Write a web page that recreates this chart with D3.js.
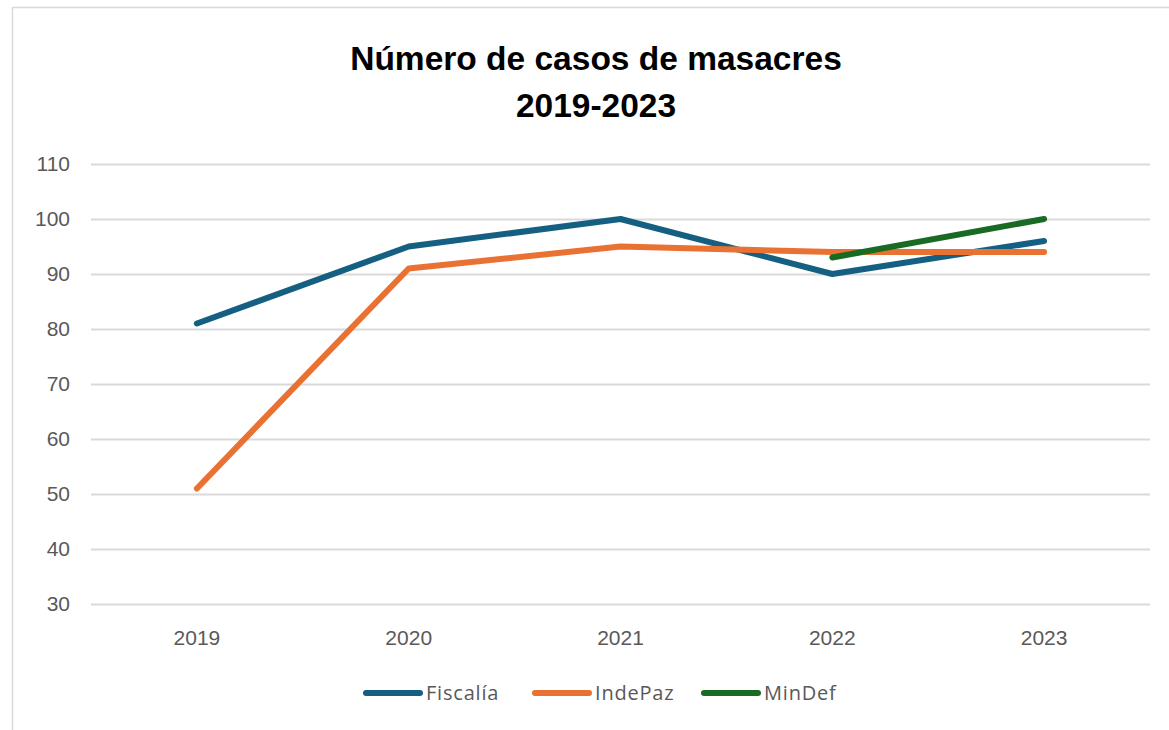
<!DOCTYPE html>
<html><head><meta charset="utf-8">
<script src="https://cdn.jsdelivr.net/npm/d3@7"></script>
<style>
body{margin:0;background:#fff;}
svg{display:block;}
</style></head>
<body>
<svg id="c" width="1169" height="730"></svg>
<script>
const years = ["2019","2020","2021","2022","2023"];
const fiscalia = [81, 95, 100, 90, 96];
const indepaz = [51, 91, 95, 94, 94];
const mindef = [null, null, null, 93, 100];
const yTicks = [30,40,50,60,70,80,90,100,110];
const seriesNames = ["Fiscalía","IndePaz","MinDef"];
const seriesColors = ["#156082","#E97132","#196B24"];
const titleLines = ["Número de casos de masacres","2019-2023"];

const svg = d3.select("#c");
// outer border
svg.append("rect").attr("x",12.5).attr("y",7.5).attr("width",1170).attr("height",730)
  .attr("fill","#fff").attr("stroke","#d9d9d9").attr("stroke-width",1.5);

const x = d3.scaleBand().domain(years).range([91,1150]);
const y = d3.scaleLinear().domain([30,110]).range([604,164]);

// gridlines
const gy = svg.append("g").attr("transform","translate(91,0)")
  .call(d3.axisLeft(y).tickValues(yTicks).tickSize(-(1150-91)).tickPadding(22).tickFormat(d3.format("d")));
gy.select(".domain").remove();
gy.selectAll(".tick line").attr("stroke","#d9d9d9").attr("stroke-width",2);
gy.selectAll(".tick text").attr("fill","#595959").style("font-family","Liberation Sans, Arial, sans-serif").style("font-size","21px").attr("x",-21);

const gx = svg.append("g").attr("transform","translate(0,604)")
  .call(d3.axisBottom(x).tickSize(0).tickPadding(26));
gx.select(".domain").remove();
gx.selectAll(".tick text").attr("fill","#595959").style("font-family","Liberation Sans, Arial, sans-serif").style("font-size","21px");

// title
const t = svg.append("text").attr("text-anchor","middle")
  .style("font-family","Liberation Sans, Arial, sans-serif").style("font-weight","bold").style("font-size","33.5px").attr("fill","#000");
titleLines.forEach((s,i)=>t.append("tspan").attr("x",596).attr("y",70+i*47).text(s));

// lines
const allSeries = [fiscalia, indepaz, mindef];
const line = d3.line()
  .defined(d=>d!=null)
  .x((d,i)=>x(years[i])+x.bandwidth()/2)
  .y(d=>y(d));
allSeries.forEach((s,k)=>{
  svg.append("path").datum(s).attr("d",line).attr("fill","none")
    .attr("stroke",seriesColors[k]).attr("stroke-width",6)
    .attr("stroke-linecap","round").attr("stroke-linejoin","round");
});

// legend
const legX = [366, 535, 704];
const leg = svg.append("g");
seriesNames.forEach((n,i)=>{
  leg.append("line").attr("x1",legX[i]).attr("x2",legX[i]+54).attr("y1",693).attr("y2",693)
    .attr("stroke",seriesColors[i]).attr("stroke-width",6).attr("stroke-linecap","round");
  leg.append("text").attr("x",legX[i]+60).attr("y",700).text(n)
    .attr("fill","#595959").style("font-family","Open Sans, sans-serif").style("font-size","20px")
    .style("letter-spacing","0.8px");
});
</script>
</body></html>
